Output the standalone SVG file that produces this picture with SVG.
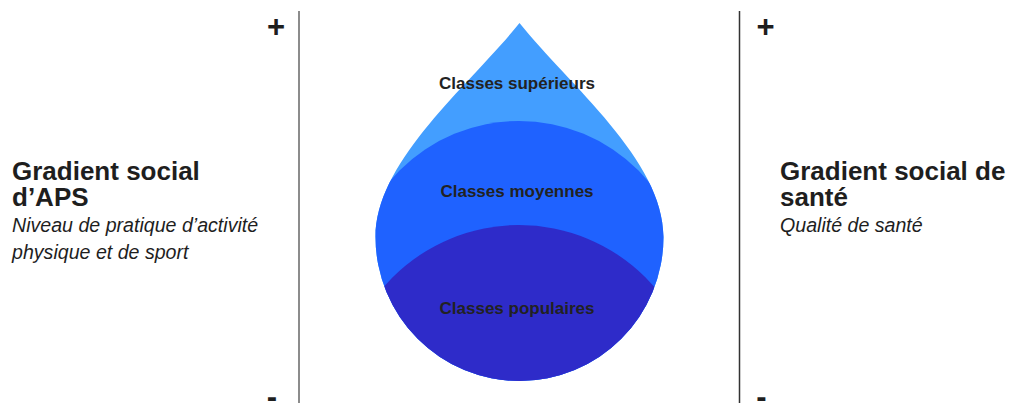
<svg xmlns="http://www.w3.org/2000/svg" width="1010" height="403" viewBox="0 0 1010 403">
<style>
.h{font-family:"Liberation Sans",Arial,sans-serif;font-weight:bold;font-size:26px;fill:#1e1e1e}
.it{font-family:"Liberation Sans",Arial,sans-serif;font-style:italic;font-size:19.6px;fill:#1e1e1e}
.lbl{font-family:"Liberation Sans",Arial,sans-serif;font-weight:bold;font-size:17px;fill:#222;text-anchor:middle}
.sign{font-family:"Liberation Sans",Arial,sans-serif;font-weight:bold;font-size:31px;fill:#1e1e1e;text-anchor:middle}
</style>
<defs>
<clipPath id="dropClip">
<path d="M519.5,23 C470,85 375.5,160 375.5,237 A144,144 0 0 0 663.5,237 C663.5,160 569,85 519.5,23 Z"/>
</clipPath>
</defs>
<g id="axes">
<line x1="299" y1="11" x2="299" y2="403" stroke="#666" stroke-width="1.5"/>
<line x1="739.5" y1="11" x2="739.5" y2="403" stroke="#333" stroke-width="1.5"/>
<text class="sign" x="276" y="37">+</text>
<text class="sign" x="272" y="407">-</text>
<text class="sign" x="765.5" y="37">+</text>
<text class="sign" x="761.5" y="407">-</text>
</g>
<g id="left-label">
<text class="h"><tspan x="12" y="180">Gradient social</tspan><tspan x="12" y="206">d’APS</tspan></text>
<text class="it"><tspan x="12" y="232">Niveau de pratique d’activité</tspan><tspan x="12" y="259">physique et de sport</tspan></text>
</g>
<g id="right-label">
<text class="h"><tspan x="780" y="180">Gradient social de</tspan><tspan x="780" y="206">santé</tspan></text>
<text class="it" x="780" y="232">Qualité de santé</text>
</g>
<g id="drop">
<g id="superieurs">
<path d="M519.5,23 C470,85 375.5,160 375.5,237 A144,144 0 0 0 663.5,237 C663.5,160 569,85 519.5,23 Z" fill="#439EFF"/>
</g>
<g id="moyennes" clip-path="url(#dropClip)">
<circle cx="519" cy="290" r="169" fill="#1F62FF"/>
</g>
<g id="populaires" clip-path="url(#dropClip)">
<circle cx="519" cy="404" r="179" fill="#2E2BC9"/>
</g>
<text class="lbl" x="517" y="89">Classes supérieurs</text>
<text class="lbl" x="517" y="197">Classes moyennes</text>
<text class="lbl" x="517" y="314">Classes populaires</text>
</g>
</svg>
